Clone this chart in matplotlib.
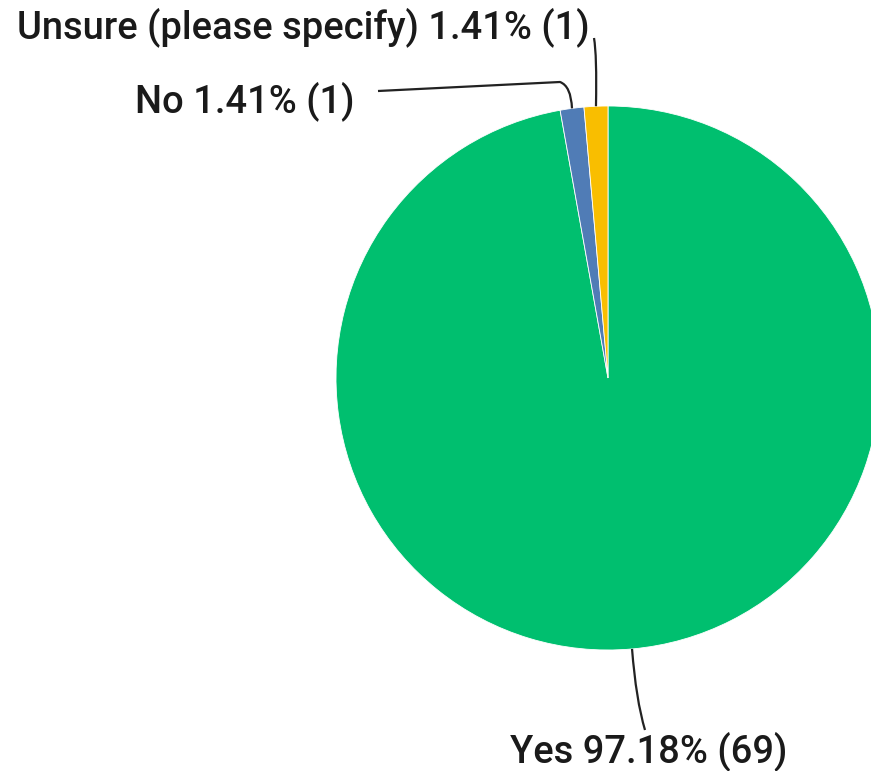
import numpy as np
import matplotlib
matplotlib.use("Agg")
import matplotlib.pyplot as plt
from matplotlib import font_manager
from matplotlib.path import Path
from matplotlib.patches import PathPatch

labels = ["Yes", "No", "Unsure (please specify)"]
counts = [69, 1, 1]
percents = [97.18, 1.41, 1.41]
colors = ["#00BF6F", "#507CB6", "#F9BE00"]

avail = {f.name for f in font_manager.fontManager.ttflist}
fam = "Roboto" if "Roboto" in avail else "DejaVu Sans"

W, H = 871, 771
fig = plt.figure(figsize=(W / 100, H / 100), dpi=100)
ax = fig.add_axes([0, 0, 1, 1])

cx, cy, R = 608, H - 378, 272
wedges, _ = ax.pie(counts, colors=colors, startangle=90, counterclock=False,
                   center=(cx, cy), radius=R, frame=True,
                   wedgeprops=dict(linewidth=0.6, edgecolor="white"))
ax.set_xlim(0, W)
ax.set_ylim(0, H)
ax.axis("off")

# label layout: (text x, text y in pixel-from-top, leader waypoints from-top)
layout = {
    0: dict(x=510, y=751, pts=[(636, 700), (645, 730)]),
    1: dict(x=135, y=101, pts=[(571, 86), (560, 82), (378, 91)]),
    2: dict(x=17, y=27, pts=[(597, 55), (594, 38)]),
}

renderer = fig.canvas.get_renderer()
texts = []
for i, w in enumerate(wedges):
    mid = np.deg2rad((w.theta1 + w.theta2) / 2)
    sx = cx + R * np.cos(mid)
    sy = cy + R * np.sin(mid)
    L = layout[i]
    verts = [(sx, sy)] + [(px, H - py) for px, py in L["pts"]]
    if len(verts) == 3:
        codes = [Path.MOVETO, Path.CURVE3, Path.CURVE3]
    else:
        codes = [Path.MOVETO, Path.CURVE3, Path.CURVE3, Path.LINETO]
    ax.add_patch(PathPatch(Path(verts, codes), fill=False, edgecolor="#222222", lw=1.6))
    txt = f"{labels[i]} {percents[i]:.2f}% ({counts[i]})"
    t = ax.text(L["x"], H - L["y"], txt, ha="left", va="center", fontsize=25,
                family=fam, fontweight="medium", color="#1a1a1a")
    texts.append(t)

# fit font size so the longest label spans its width in the reference
target = 573
bw = texts[2].get_window_extent(renderer).width
fs = 25 * target / bw
for t in texts:
    t.set_fontsize(fs)

fig.savefig("out.png", dpi=100)
